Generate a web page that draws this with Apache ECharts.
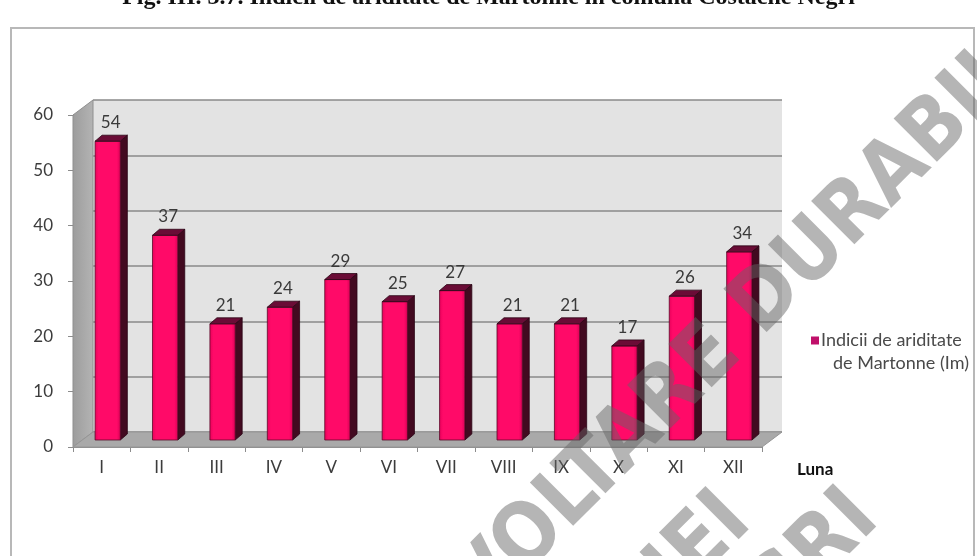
<!DOCTYPE html>
<html>
<head>
<meta charset="utf-8">
<script src="https://cdn.jsdelivr.net/npm/echarts@6/dist/echarts.min.js"></script>
<style>
  html, body { margin: 0; padding: 0; background: #fff; }
  #mainChart { width: 977px; height: 556px; }
</style>
</head>
<body>
<div id="mainChart"></div>
<script>
var months = ['I', 'II', 'III', 'IV', 'V', 'VI', 'VII', 'VIII', 'IX', 'X', 'XI', 'XII'];
var indexValues = [54, 37, 21, 24, 29, 25, 27, 21, 21, 17, 26, 34];
var yTicks = [0, 10, 20, 30, 40, 50, 60];
var seriesName = 'Indicii de ariditate de Martonne (Im)';
var titleText = 'Fig. III. 3.7. Indicii de ariditate de Martonne în comuna Costache Negri';

var depthX = 20, depthY = -15;   // perspective depth of the plot box
var font = 'Lato, "Open Sans", sans-serif';

var mainChart = echarts.init(document.getElementById('mainChart'));

function renderWalls(params, api) {
	var bw = api.size([1, 0])[0];
	var p0 = api.coord([0, yTicks[0]]);
	var pTop = api.coord([0, yTicks[yTicks.length - 1]]);
	var x0 = p0[0] - bw / 2;
	var x1 = api.coord([months.length - 1, 0])[0] + bw / 2;
	var y0 = p0[1], yT = pTop[1];
	return {
		type: 'group',
		children: [
			{ // left wall
				type: 'polygon',
				shape: { points: [[x0, y0], [x0 + depthX, y0 + depthY], [x0 + depthX, yT + depthY], [x0, yT]] },
				style: {
					fill: new echarts.graphic.LinearGradient(0, 0, 1, 0, [
						{ offset: 0, color: '#9c9c9c' }, { offset: 1, color: '#b4b4b4' }
					]),
					stroke: '#8f8f8f', lineWidth: 1
				}
			},
			{ // floor
				type: 'polygon',
				shape: { points: [[x0, y0], [x1, y0], [x1 + depthX, y0 + depthY], [x0 + depthX, y0 + depthY]] },
				style: { fill: '#a9a9a9', stroke: '#959595', lineWidth: 1 }
			}
		]
	};
}

function renderBar(params, api) {
	var i = api.value(0);
	var v = api.value(1);
	var base = api.coord([i, 0]);
	var top = api.coord([i, v]);
	var bw = api.size([1, 0])[0];
	var w = bw * 0.44;
	var left = base[0] - w / 2 + 6;
	var bottom = base[1] - 7;
	var yt = top[1] - 7;
	var sx = 7, sy = -6;
	return {
		type: 'group',
		children: [
			{
				type: 'polygon',
				shape: { points: [[left + w, yt], [left + w + sx, yt + sy], [left + w + sx, bottom + sy], [left + w, bottom]] },
				style: { fill: '#420a20', stroke: '#2a0414', lineWidth: 0.8 }
			},
			{
				type: 'rect',
				shape: { x: left, y: yt, width: w, height: bottom - yt },
				style: {
					fill: new echarts.graphic.LinearGradient(0, 0, 1, 0, [
						{ offset: 0, color: '#e8005a' }, { offset: 0.15, color: '#ff0a68' },
						{ offset: 0.85, color: '#ff0a68' }, { offset: 1, color: '#d80055' }
					]),
					stroke: '#5a0a28', lineWidth: 0.8
				}
			},
			{
				type: 'polygon',
				shape: { points: [[left, yt], [left + w, yt], [left + w + sx, yt + sy], [left + sx, yt + sy]] },
				style: { fill: '#6a0c36', stroke: '#2a0414', lineWidth: 0.8 }
			},
			{
				type: 'text',
				style: {
					x: left + w / 2 + 3, y: yt + sy - 4,
					text: String(v),
					fill: '#3a3a3a', font: '17px ' + font,
					align: 'center', verticalAlign: 'bottom'
				}
			}
		]
	};
}

function watermark(text, x, y) {
	return {
		type: 'text', x: x, y: y, rotation: 45 * Math.PI / 180, z: 100,
		style: {
			text: text, align: 'center', verticalAlign: 'middle',
			font: 'bold 84px "DejaVu Sans Condensed", "DejaVu Sans", sans-serif',
			fill: 'rgba(100,100,100,0.48)'
		}
	};
}

var options = {
	backgroundColor: '#fff',
	animation: false,
	title: {
		text: titleText,
		left: 'center',
		top: -19,
		textStyle: { fontFamily: '"Liberation Serif", serif', fontSize: 24, fontWeight: 'bold', color: '#111' }
	},
	legend: {
		left: 806,
		top: 301,
		itemWidth: 8,
		itemHeight: 8,
		itemGap: 4,
		data: [{ name: seriesName, icon: 'rect', itemStyle: { color: '#c0106a' } }],
		formatter: function () {
			return ' \n{a|Indicii de ariditate}\n{b|de Martonne (Im)}';
		},
		textStyle: {
			fontFamily: font, fontSize: 18, color: '#4a4a4a', lineHeight: 23, padding: [0, 0, 0, -3],
			rich: {
				a: { fontFamily: font, fontSize: 18, color: '#4a4a4a', lineHeight: 23 },
				b: { fontFamily: font, fontSize: 18, color: '#4a4a4a', lineHeight: 23, padding: [0, 0, 0, 12] }
			}
		}
	},
	grid: [
		{ left: 93, right: 195, top: 100, bottom: 124, show: true, backgroundColor: '#e3e3e3', borderWidth: 0 },
		{ left: 73, right: 215, top: 115, bottom: 109 }
	],
	xAxis: [
		{ gridIndex: 0, type: 'category', data: months, show: false },
		{
			gridIndex: 1, type: 'category', data: months,
			axisLine: { lineStyle: { color: '#8c8c8c', width: 1 } },
			axisTick: { show: true, length: 5, lineStyle: { color: '#8c8c8c' } },
			axisLabel: { color: '#3c3c3c', fontFamily: font, fontSize: 17, margin: 12 },
			name: 'Luna', nameLocation: 'end', nameGap: 35,
			nameTextStyle: { fontFamily: font, fontSize: 17, fontWeight: 'bold', color: '#111', verticalAlign: 'top', padding: [14, 0, 0, 0] }
		}
	],
	yAxis: [
		{
			gridIndex: 0, type: 'value', min: 0, max: 60, interval: 10,
			axisLine: { show: false }, axisTick: { show: false }, axisLabel: { show: false },
			splitLine: { lineStyle: { color: '#8a8a8a', width: 1.6 } }
		},
		{
			gridIndex: 1, type: 'value', min: 0, max: 60, interval: 10,
			axisLine: { show: true, lineStyle: { color: '#8c8c8c' } },
			axisTick: { show: true, length: 5, lineStyle: { color: '#8c8c8c' } },
			axisLabel: { color: '#3c3c3c', fontFamily: font, fontSize: 17, margin: 20 },
			splitLine: { show: false }
		}
	],
	series: [
		{
			name: 'walls', type: 'custom', xAxisIndex: 1, yAxisIndex: 1,
			renderItem: renderWalls, data: [[0, 0]], silent: true, z: 1
		},
		{
			name: seriesName, type: 'custom', xAxisIndex: 1, yAxisIndex: 1,
			renderItem: renderBar, z: 3,
			itemStyle: { color: '#c0106a' },
			data: months.map(function (m, i) { return [i, indexValues[i]]; })
		}
	],
	graphic: [
		{
			type: 'rect', z: -1,
			shape: { x: 11, y: 28, width: 963, height: 540 },
			style: { fill: 'none', stroke: '#b8b8b8', lineWidth: 2 }
		},
		watermark('DEZVOLTARE DURABILĂ', 700, 368),
		watermark('COMUNEI', 597, 650),
		watermark('COSTACHE NEGRI', 605, 767)
	]
};

mainChart.setOption(options);
window.onresize = function () { mainChart.resize(); };
</script>
</body>
</html>
